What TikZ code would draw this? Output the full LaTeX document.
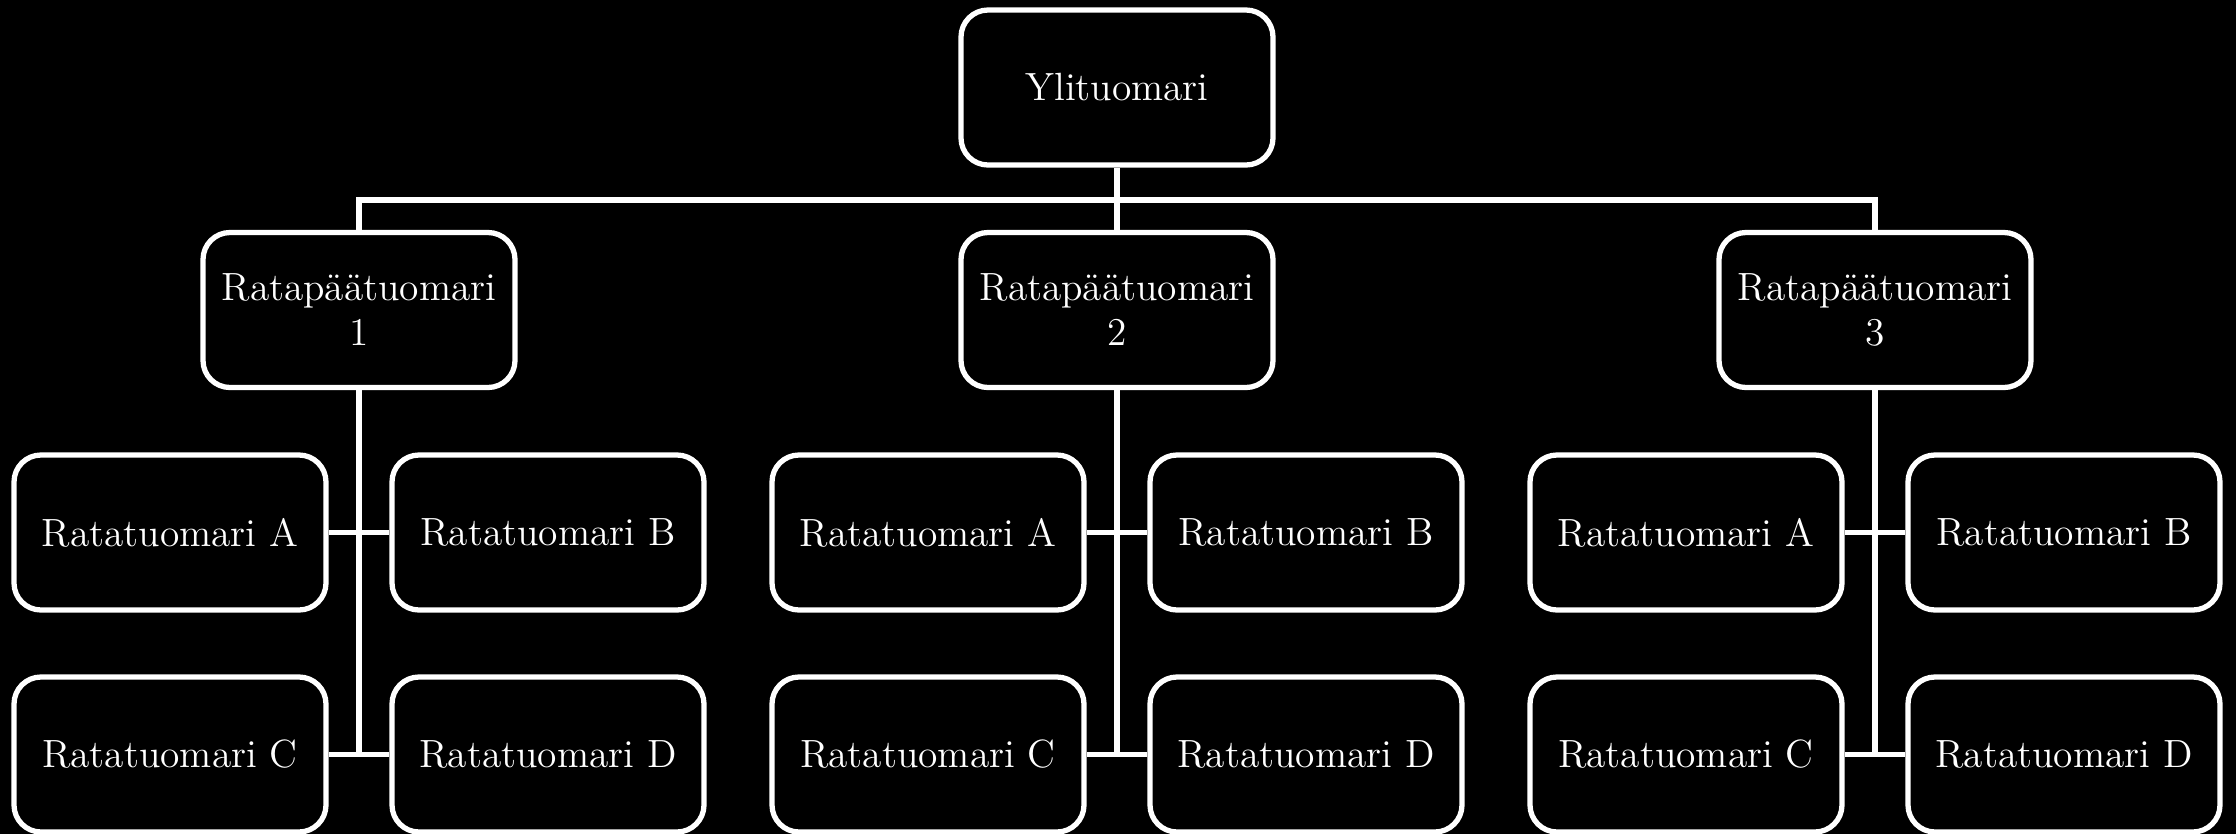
\documentclass[tikz,border=0pt]{standalone}
\usepackage{fontspec}
\begin{document}
\begin{tikzpicture}[
    every node/.style={font=\fontsize{11.2}{12.8}\selectfont,text=white},
    judge/.style={draw=white,line width=1.5pt,rounded corners=0.27cm,fill=black,
      minimum width=3.12cm,minimum height=1.55cm,inner sep=0pt,align=center},
    link/.style={draw=white,line width=1.5pt}]
  \fill[black] (0,0) rectangle (22.36,-8.34);
  \useasboundingbox (0,0) rectangle (22.36,-8.34);
  \coordinate (bus) at (11.17,-2.00);
  \node[judge] (yli) at (11.17,-0.875) {Ylituomari};
  \node[judge] (rp1) at (3.59,-3.10) {Ratapäätuomari\\1};
  \node[judge] (rp2) at (11.17,-3.10) {Ratapäätuomari\\2};
  \node[judge] (rp3) at (18.75,-3.10) {Ratapäätuomari\\3};
  \node[judge] (a1) at (1.70,-5.325) {Ratatuomari A};
  \node[judge] (b1) at (5.48,-5.325) {Ratatuomari B};
  \node[judge] (c1) at (1.70,-7.545) {Ratatuomari C};
  \node[judge] (d1) at (5.48,-7.545) {Ratatuomari D};
  \node[judge] (a2) at (9.28,-5.325) {Ratatuomari A};
  \node[judge] (b2) at (13.06,-5.325) {Ratatuomari B};
  \node[judge] (c2) at (9.28,-7.545) {Ratatuomari C};
  \node[judge] (d2) at (13.06,-7.545) {Ratatuomari D};
  \node[judge] (a3) at (16.86,-5.325) {Ratatuomari A};
  \node[judge] (b3) at (20.64,-5.325) {Ratatuomari B};
  \node[judge] (c3) at (16.86,-7.545) {Ratatuomari C};
  \node[judge] (d3) at (20.64,-7.545) {Ratatuomari D};
  \draw[link] (yli) -- (rp2)
    (rp1.north) |- (bus) -| (rp3.north)
    ;
  \draw[link] (rp1) -- (rp1 |- c1.east) (a1) -- (b1) (c1) -- (d1)
    (rp2) -- (rp2 |- c2.east) (a2) -- (b2) (c2) -- (d2)
    (rp3) -- (rp3 |- c3.east) (a3) -- (b3) (c3) -- (d3)
    ;
\end{tikzpicture}
\end{document}
